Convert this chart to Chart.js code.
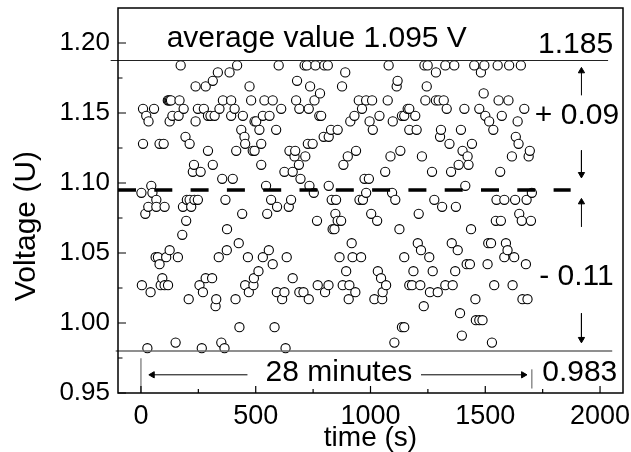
<!DOCTYPE html>
<html>
<head>
<meta charset="utf-8">
<script src="https://cdn.jsdelivr.net/npm/chart.js@4.4.1/dist/chart.umd.min.js"></script>
<style>
  html, body { margin: 0; padding: 0; background: #fff; }
</style>
</head>
<body>
<canvas id="chart" width="631" height="452"></canvas>
<script>
// measured voltage levels (V) and the times (s) where a reading sits on that level
const voltageLevels = [
  1.184, 1.179, 1.173, 1.169, 1.164, 1.159, 1.153, 1.148, 1.144, 1.138,
  1.133, 1.128, 1.123, 1.119, 1.113, 1.108, 1.103, 1.098, 1.093, 1.088,
  1.083, 1.078, 1.073, 1.067, 1.063, 1.057, 1.052, 1.047, 1.042, 1.037,
  1.032, 1.027, 1.022, 1.017, 1.012, 1.007, 1.002, 0.997, 0.991, 0.986, 0.982
];
const timesAtLevel = [
  [173,419,600,713,723,760,799,814,1079,1235,1249,1326,1365,1452,1496,1554,1604,1655],
  [335,386,890,1285,1481],
  [313,680,1118],
  [238,282,473,737,876,1114,1245],
  [780,1493],
  [117,121,126,131,168,357,393,480,538,574,676,756,949,981,1007,1075,1239,1285,1297,1319,1558,1601],
  [9,57,186,248,274,342,408,611,690,731,963,1162,1169,1332,1409,1474,1670],
  [23,137,164,292,303,321,393,444,531,560,777,785,930,1039,1137,1147,1195,1500,1572],
  [33,125,238,495,502,912,996,1097,1517,1641],
  [437,516,589,828,857,1010,1169,1201,1307,1394,1535],
  [194,451,796,818,1303,1633],
  [9,81,99,212,454,524,727,748,1344,1442,1645],
  [292,415,487,495,647,672,937,1130,1401,1694],
  [669,716,901,1087,1224,1423,1616,1689],
  [231,313,524,688,882,1384,1427],
  [226,260,625,661,1064,1268,1351,1565],
  [354,400,695,974,993],
  [45,545,734,818,1413],
  [2,50,753,981,1094,1703],
  [67,200,212,233,248,368,567,654,831,850,952,967,1108,1278,1549,1583,1630,1680],
  [32,67,103,183,219,593,644,1312,1372],
  [19,441,550,847,1003,1210,1648],
  [197,767,857,872,1029,1546,1568,1659,1699],
  [375,835,843,1126,1438],
  [180],
  [426,918,1206,1354,1513,1525,1590],
  [125,374,557,1220,1380,1597],
  [64,74,110,161,339,466,531,635,865,922,959,1147,1256,1583,1626],
  [81,574,1419,1433,1510,1677],
  [512,894,1032,1187,1271,1369],
  [93,282,310,492,661,1046],
  [4,86,103,118,255,454,490,770,817,879,908,1068,1169,1181,1217,1326,1358,1539,1619],
  [42,270,470,592,625,690,708,802,934,1053,1259,1293],
  [208,328,412,615,731,905,1017,1051,1457,1662,1684],
  [325,1232],
  [1390],
  [1459,1474,1488],
  [429,582,1137,1147],
  [1398],
  [151,350,1104,1529],
  [28,265,364,630]
];

const xTicks = [0, 500, 1000, 1500, 2000];
const xMinorTicks = [250, 750, 1250, 1750];
const yTicks = [0.95, 1.00, 1.05, 1.10, 1.15, 1.20];
const yMinorTicks = [0.975, 1.025, 1.075, 1.125, 1.175];

// reference lines: [x start, x end, level]
const averageLine = [-100, 1872, 1.095];
const upperLine = [-132, 2035, 1.1875];
const lowerLine = [-110, 2053, 0.980];

// short vertical markers at start and end of the 28 minutes: [x, y from, y to]
const startMark = [0, 0.950, 0.9748];
const endMark = [1703, 0.9532, 0.9669];

// arrows: [x1, y1, x2, y2] with the head at (x2, y2)
const arrows = [
  [464, 0.963, 50, 0.963],
  [1220, 0.963, 1666, 0.963],
  [1919, 1.1626, 1919, 1.1800],
  [1919, 1.1233, 1919, 1.1062],
  [1919, 1.0686, 1919, 1.0864],
  [1919, 1.0069, 1919, 0.9884]
];

const labels = [
  { text: 'average value 1.095 V', x: 112, y: 1.1969 },
  { text: '1.185', x: 1730, y: 1.1926 },
  { text: '+ 0.09', x: 1716, y: 1.1419 },
  { text: '- 0.11', x: 1735, y: 1.0269 },
  { text: '28 minutes', x: 543, y: 0.9586 },
  { text: '0.983', x: 1748, y: 0.9586 }
];

const fontFamily = '"Liberation Sans", Arial, Helvetica, sans-serif';

// flatten readings, in time order
const readings = [];
voltageLevels.forEach(function (v, i) {
  timesAtLevel[i].forEach(function (t) { readings.push({ x: t, y: v }); });
});
readings.sort(function (a, b) { return a.x - b.x; });

function hLine(l, color, width, dash) {
  return {
    data: [{ x: l[0], y: l[2] }, { x: l[1], y: l[2] }],
    showLine: true, borderColor: color, borderWidth: width, borderDash: dash || [],
    pointRadius: 0, clip: false, order: 1
  };
}
function vLine(m) {
  return {
    data: [{ x: m[0], y: m[1] }, { x: m[0], y: m[2] }],
    showLine: true, borderColor: '#555', borderWidth: 1, pointRadius: 0, clip: false, order: 1
  };
}
function arrow(a) {
  var rot;
  if (a[1] === a[3]) rot = a[2] > a[0] ? 90 : -90;
  else rot = a[3] > a[1] ? 0 : 180;
  return {
    data: [{ x: a[0], y: a[1] }, { x: a[2], y: a[3] }],
    showLine: true, borderColor: '#000', borderWidth: 1,
    pointRadius: [0, 3.6], pointStyle: 'triangle', pointRotation: [0, rot],
    pointBackgroundColor: '#000', pointBorderColor: '#000', pointBorderWidth: 1,
    clip: false, order: 1
  };
}

// frame, inside ticks, free texts and the rotated y title
const decorations = {
  id: 'decorations',
  afterDatasetsDraw: function (chart) {
    const ctx = chart.ctx;
    const a = chart.chartArea;
    const xs = chart.scales.x, ys = chart.scales.y;
    ctx.save();
    ctx.strokeStyle = '#000';
    ctx.lineWidth = 1.5;
    ctx.strokeRect(a.left, a.top, a.right - a.left, a.bottom - a.top);

    ctx.lineWidth = 1.2;
    ctx.beginPath();
    xTicks.forEach(function (v) {
      const p = xs.getPixelForValue(v);
      ctx.moveTo(p, a.bottom); ctx.lineTo(p, a.bottom - 7);
    });
    xMinorTicks.forEach(function (v) {
      const p = xs.getPixelForValue(v);
      ctx.moveTo(p, a.bottom); ctx.lineTo(p, a.bottom - 4);
    });
    yTicks.forEach(function (v) {
      const p = ys.getPixelForValue(v);
      ctx.moveTo(a.left, p); ctx.lineTo(a.left + 8, p);
    });
    yMinorTicks.forEach(function (v) {
      const p = ys.getPixelForValue(v);
      ctx.moveTo(a.left, p); ctx.lineTo(a.left + 4.5, p);
    });
    ctx.stroke();

    ctx.fillStyle = '#000';
    ctx.font = '30px ' + fontFamily;
    ctx.textAlign = 'left';
    ctx.textBaseline = 'alphabetic';
    labels.forEach(function (l) {
      ctx.fillText(l.text, xs.getPixelForValue(l.x), ys.getPixelForValue(l.y));
    });

    ctx.translate(35, 226);
    ctx.rotate(-Math.PI / 2);
    ctx.textAlign = 'center';
    ctx.fillText('Voltage (U)', 0, 0);
    ctx.restore();
  }
};

const datasets = [
  {
    data: readings,
    pointRadius: 4.6,
    pointBorderWidth: 1.1,
    pointBorderColor: '#000',
    pointBackgroundColor: '#fff',
    showLine: false,
    order: 2
  },
  hLine(averageLine, '#000', 3.5, [18, 18.3]),
  hLine(upperLine, '#222', 1),
  hLine(lowerLine, '#6a6a6a', 1.5),
  vLine(startMark),
  vLine(endMark)
].concat(arrows.map(arrow));

new Chart(document.getElementById('chart'), {
  type: 'scatter',
  data: { datasets: datasets },
  options: {
    responsive: false,
    animation: false,
    events: [],
    layout: { padding: { top: 8, right: 8, left: 0, bottom: 0 } },
    plugins: { legend: { display: false }, tooltip: { enabled: false } },
    scales: {
      x: {
        type: 'linear', min: -100, max: 2100,
        afterBuildTicks: function (s) { s.ticks = xTicks.map(function (v) { return { value: v }; }); },
        afterFit: function (s) { s.height = 59; s.paddingLeft = 0; s.paddingRight = 0; },
        grid: { display: false, drawTicks: false },
        border: { display: false },
        ticks: {
          color: '#000', padding: 7, maxRotation: 0, autoSkip: false,
          font: { family: fontFamily, size: 27 },
          callback: function (v) { return String(v); }
        },
        title: {
          display: true, text: 'time (s)', color: '#000',
          font: { family: fontFamily, size: 28, lineHeight: 1 }, padding: { top: 0, bottom: 0 }
        }
      },
      y: {
        type: 'linear', min: 0.95, max: 1.225,
        afterBuildTicks: function (s) { s.ticks = yTicks.map(function (v) { return { value: v }; }); },
        afterFit: function (s) { s.width = 118; s.paddingTop = 0; s.paddingBottom = 0; },
        grid: { display: false, drawTicks: false },
        border: { display: false },
        ticks: {
          color: '#000', padding: 8, autoSkip: false,
          font: { family: fontFamily, size: 26 },
          callback: function (v) { return v.toFixed(2); }
        }
      }
    }
  },
  plugins: [decorations]
});
</script>
</body>
</html>
